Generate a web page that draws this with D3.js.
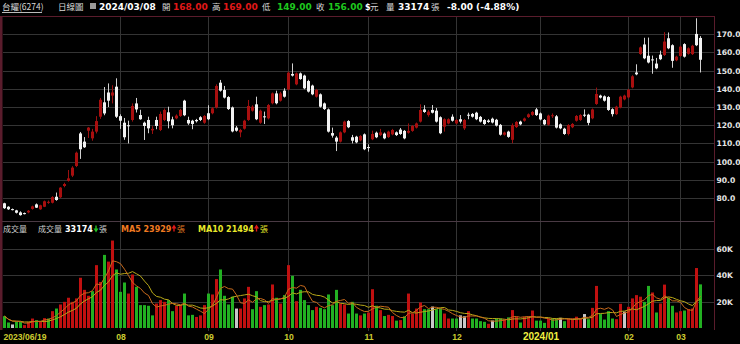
<!DOCTYPE html>
<html><head><meta charset="utf-8">
<script src="https://cdn.jsdelivr.net/npm/d3@7"></script>
<style>html,body{margin:0;padding:0;background:#000;overflow:hidden}</style>
</head><body>
<svg id="c" width="740" height="344"></svg>
<script>
// ---- data ----
const openP = [
77.1,75.2,73.9,73.2,72.1,71.7,72.1,74.0,76.5,73.8,
75.2,77.5,77.4,80.7,80.4,86.6,89.5,92.3,97.6,115.5,
111.0,117.0,112.8,116.5,124.7,132.6,138.0,136.3,141.2,125.0,
121.4,120.0,122.9,132.0,125.6,121.4,122.9,117.2,122.9,117.4,
122.9,127.1,123.2,123.8,125.1,133.5,122.9,122.5,122.9,124.4,
121.4,126.6,126.6,129.8,143.4,139.4,135.5,129.8,118.7,116.1,
118.1,122.9,128.0,131.5,121.4,124.9,123.8,132.1,137.5,133.5,
139.0,139.7,148.2,142.5,148.5,147.3,144.3,141.8,135.7,137.0,
132.0,128.7,115.7,113.2,111.0,116.1,122.3,113.4,113.7,111.7,
115.0,108.0,112.3,115.9,114.6,115.4,113.5,115.0,116.1,117.6,
116.9,115.9,116.9,118.7,122.0,128.7,125.6,128.4,128.0,124.4,
119.2,121.0,124.7,121.0,123.3,118.3,125.8,126.2,126.9,124.6,
122.9,122.6,123.6,123.0,120.2,114.8,116.5,112.0,119.0,122.0,
122.5,124.5,125.7,128.7,126.5,122.9,120.3,125.0,124.9,120.5,
118.1,115.2,118.9,122.5,122.9,125.8,125.8,123.8,131.7,136.3,
135.9,135.5,128.8,126.1,129.8,134.2,135.3,140.8,149.0,159.2,
164.4,158.2,156.2,153.9,158.8,158.6,167.8,164.0,155.7,158.1,
164.6,159.3,159.1,170.2,168.0];
const closeP = [
74.4,73.8,73.4,71.9,70.6,71.2,73.0,75.4,74.7,76.0,
78.2,77.9,80.5,78.9,85.7,87.7,90.8,96.7,104.9,106.8,
107.9,118.7,116.5,122.3,134.0,126.5,133.5,138.0,124.7,122.5,
113.4,119.8,130.6,128.7,123.3,119.6,118.3,118.0,119.6,126.2,
128.4,122.2,120.0,125.3,128.4,125.5,121.0,120.7,122.2,122.9,
125.1,123.3,129.3,141.6,139.0,135.2,128.9,116.6,117.0,117.4,
122.5,130.6,130.2,123.3,128.0,124.8,131.1,137.5,132.1,137.5,
135.7,148.9,147.3,148.5,145.4,140.3,138.5,137.0,139.4,130.2,
128.9,116.5,114.3,111.0,116.1,122.0,118.9,111.5,110.6,114.1,
106.8,107.8,115.2,113.4,116.1,112.8,116.5,117.4,114.6,115.2,
112.8,116.9,119.6,121.0,128.4,127.3,127.5,126.9,122.0,115.6,
123.3,123.3,122.5,122.9,122.0,122.9,125.4,124.7,123.3,122.0,
120.7,121.8,121.5,119.8,114.8,116.0,113.6,120.0,121.8,120.5,
123.7,126.0,127.3,125.6,123.2,120.5,125.3,125.5,118.7,118.3,
115.2,120.1,120.7,125.1,125.6,125.4,121.3,128.7,137.2,135.2,
133.5,128.4,126.1,130.2,135.7,136.3,139.5,146.9,148.0,162.8,
156.8,154.5,155.8,151.3,156.3,166.0,162.3,155.4,157.7,163.2,
157.7,162.3,163.7,164.0,156.0];
const highP = [
77.4,75.5,74.2,73.5,72.7,72.0,73.4,75.8,77.0,76.3,
78.6,78.6,81.0,83.0,86.0,88.4,95.4,97.5,105.5,116.3,
113.5,119.0,118.0,125.0,135.0,141.0,143.0,142.0,145.8,126.0,
124.0,122.5,132.0,135.0,128.5,122.0,124.7,119.5,124.7,127.5,
129.2,130.2,124.7,126.0,129.0,134.0,124.7,123.0,123.5,125.0,
125.6,131.0,130.0,142.5,144.9,141.6,136.0,130.3,119.6,118.0,
123.0,133.9,131.0,135.7,128.6,127.5,131.7,138.0,139.0,138.4,
140.3,149.5,154.0,149.0,149.0,147.8,145.0,142.3,140.0,137.5,
132.5,129.2,118.7,114.0,116.6,122.5,122.8,114.7,114.2,114.6,
115.5,109.5,117.0,116.5,118.0,116.0,117.0,118.0,116.6,118.5,
117.4,121.0,120.1,121.5,131.5,131.0,128.4,131.1,129.5,124.9,
123.8,123.8,126.0,123.4,125.6,123.4,126.9,126.7,127.4,125.1,
123.4,123.3,124.2,123.5,120.7,116.5,117.0,121.0,122.3,122.5,
124.2,126.5,127.8,129.5,127.0,123.4,125.8,126.5,125.6,121.0,
118.6,120.6,121.2,125.6,126.1,128.7,126.3,129.2,140.7,136.8,
136.4,136.0,129.3,130.7,136.2,136.8,140.0,147.5,153.5,163.3,
168.1,168.2,158.3,157.0,161.0,171.2,171.0,164.5,158.2,163.7,
165.1,162.8,164.2,178.8,169.0];
const lowP = [
74.0,73.4,73.2,71.5,70.3,71.0,71.6,73.6,74.5,73.5,
75.0,76.8,77.0,78.5,80.0,85.9,89.0,91.5,97.0,101.5,
107.5,113.0,111.5,115.5,123.5,125.5,130.0,132.0,124.0,118.0,
112.0,110.0,122.0,127.0,123.0,111.9,115.6,115.2,117.8,116.8,
122.3,118.3,118.3,123.3,124.6,125.0,120.2,117.8,121.5,122.3,
120.8,122.8,126.0,129.2,138.5,134.7,128.4,116.1,116.5,113.4,
117.6,122.4,127.5,122.8,120.8,120.7,123.2,131.5,131.5,133.0,
135.2,139.2,146.8,142.0,145.0,139.8,138.0,136.5,135.2,129.7,
128.4,116.0,113.2,105.8,110.5,115.6,118.4,110.0,110.1,111.2,
106.3,105.5,111.8,112.9,114.1,112.3,113.0,114.5,114.1,114.7,
112.3,115.4,116.4,118.2,121.5,126.8,124.7,126.5,121.5,115.1,
116.5,120.5,122.0,120.5,121.0,117.4,123.3,124.2,122.8,121.5,
120.2,121.3,121.0,119.3,114.3,114.3,113.1,110.1,118.5,120.0,
122.0,124.0,125.2,125.1,122.7,120.0,119.8,124.0,118.2,117.8,
114.7,114.4,118.4,122.0,122.4,124.5,120.0,123.3,131.2,134.7,
133.0,127.9,124.8,125.6,129.3,133.7,134.8,140.3,147.5,158.7,
156.3,154.0,148.3,150.8,155.8,158.1,161.8,151.6,155.2,157.6,
157.2,158.8,158.6,163.5,149.0];
const volume = [
9000,4200,2700,4700,4700,2200,4700,7200,6000,5000,
7500,7200,12800,14800,17900,19900,23000,19900,22500,38200,
29000,24500,28000,47800,35000,55600,50500,66500,44500,27500,
34600,26200,40700,31300,17400,17400,16900,9600,18600,21200,
19900,21200,12800,16900,17400,26200,9600,10000,8400,9600,
17400,26200,25500,37200,44500,24500,17900,23800,14800,14800,
22500,31300,14300,28000,16100,17400,17900,33100,23000,18600,
25000,47800,39700,20400,29000,21200,17400,13600,16100,15300,
14300,25500,17400,29000,18600,17900,11000,19900,11000,9600,
11000,11800,29500,16900,13600,9100,10000,9100,5600,6000,
8900,26200,11000,14800,19400,14300,14300,16300,14300,14800,
11000,7200,7200,7200,9600,8900,12800,7200,7200,5200,
4700,3200,5700,7200,7200,6400,8100,13600,8400,4200,
8400,8900,13300,5600,5600,3900,7200,7200,7200,7700,
5200,7200,7200,8600,7200,10600,6700,15300,32000,10600,
6400,12800,7200,6700,18400,12500,16100,22500,25000,23800,
19900,32000,27000,11800,18600,33000,23000,16900,11800,12800,
13300,14300,14800,45600,33174];
// volume bar colour: r = up, g = down, n = unchanged
const volDir = (
"ggnggrrrgr"+"rgrgrrrrrr"+"rrgrrgrrgg"+"grrgggggrr"+"rggrrgggrr"+
"rgrrggggnr"+"rrggrgrrgr"+"grgrggggrg"+"ggggrrgggr"+"grrgrgrrgr"+
"grrrrggngg"+"rrggnnrggg"+"grnggrgrrg"+"rrrgggrggn"+"grrrrngrrg"+
"gggrrnrrrr"+"ggrgrrggrr"+"grrrg").split("");
const xTickIdx = [0,29,51,71,91,113,134,156,169];
const xTickLabels = ["2023/06/19","08","09","10","11","12","2024/01","02","03"];
const priceTicks = [80,90,100,110,120,130,140,150,160,170];
const volTicks = [20000,40000,60000];

// ---- drawing ----
const W = 740, H = 344;
const svg = d3.select("#c");
svg.append("rect").attr("width",W).attr("height",H).attr("fill","#000");

const N = closeP.length;
const x = d3.scaleLinear().domain([0, N-1]).range([4.5, 4.5 + 4*(N-1)]);
const y = d3.scaleLinear().domain([70,180]).range([216.2,16.1]);
const yv = d3.scaleLinear().domain([0,80000]).range([328,222.8]);

const gridC = "#343434";
const L = 3, R = 714;
svg.append("g").selectAll("line").data(priceTicks).join("line")
  .attr("x1",L).attr("x2",R).attr("y1",d=>Math.round(y(d))+0.5).attr("y2",d=>Math.round(y(d))+0.5)
  .attr("stroke",gridC).attr("stroke-width",1);
svg.append("g").selectAll("line").data(volTicks).join("line")
  .attr("x1",L).attr("x2",R).attr("y1",d=>Math.round(yv(d))+0.5).attr("y2",d=>Math.round(yv(d))+0.5)
  .attr("stroke",gridC).attr("stroke-width",1);
svg.append("g").selectAll("line").data(xTickIdx.slice(1)).join("line")
  .attr("x1",d=>x(d)).attr("x2",d=>x(d)).attr("y1",16).attr("y2",331)
  .attr("stroke",gridC).attr("stroke-width",1);

// frame
const frameC = "#5a1c2c";
svg.append("line").attr("x1",2).attr("x2",R+0.5).attr("y1",16.5).attr("y2",16.5).attr("stroke",frameC);
svg.append("line").attr("x1",2).attr("x2",R+0.5).attr("y1",221.5).attr("y2",221.5).attr("stroke","#4a3a44");
svg.append("line").attr("x1",R+0.5).attr("x2",R+0.5).attr("y1",16).attr("y2",330).attr("stroke",frameC);
svg.append("rect").attr("x",0).attr("y",16).attr("width",2.5).attr("height",314).attr("fill",frameC);

// candles
const upC = "#a80f0f", dnC = "#f2f2f2";
const idx = d3.range(N);
const cg = svg.append("g");
cg.selectAll("line").data(idx).join("line")
  .attr("x1",i=>x(i)).attr("x2",i=>x(i))
  .attr("y1",i=>y(highP[i])).attr("y2",i=>y(lowP[i]))
  .attr("stroke",i=>closeP[i]>=openP[i]?"#9a1010":"#d0d0d0").attr("stroke-width",1);
cg.selectAll("rect").data(idx).join("rect")
  .attr("x",i=>x(i)-1.5).attr("width",3)
  .attr("y",i=>y(Math.max(openP[i],closeP[i])))
  .attr("height",i=>Math.max(1, Math.abs(y(openP[i])-y(closeP[i]))))
  .attr("fill",i=>closeP[i]>=openP[i]?upC:dnC);

// volume bars
const vcol = {r:"#c01010", g:"#22b022", n:"#c8c8c8"};
svg.append("g").selectAll("rect").data(idx).join("rect")
  .attr("x",i=>x(i)-1.5).attr("width",3)
  .attr("y",i=>yv(volume[i])).attr("height",i=>yv(0)-yv(volume[i]))
  .attr("fill",i=>vcol[volDir[i]]);

// moving averages of volume
function ma(n){ return idx.map(i=>d3.mean(volume.slice(Math.max(0,i-n+1), i+1))); }
const ma5 = ma(5), ma10 = ma(10);
const line = arr => d3.line().x((d,i)=>x(i)).y(d=>yv(d))(arr);
svg.append("path").attr("d",line(ma10)).attr("fill","none").attr("stroke","#b8a818").attr("stroke-width",1);
svg.append("path").attr("d",line(ma5)).attr("fill","none").attr("stroke","#c86a1c").attr("stroke-width",1);

// axes
const numFont = "'DejaVu Sans', Verdana, sans-serif";
const narrowFont = "'Liberation Sans', Arial, sans-serif";
const cjkFont = "'Noto Sans CJK TC', 'Noto Sans CJK SC', sans-serif";
const ay = svg.append("g").attr("transform",`translate(${R+2.5},0)`)
  .call(d3.axisRight(y).tickValues(priceTicks).tickFormat(d3.format(".1f")).tickSize(0).tickPadding(0));
const av = svg.append("g").attr("transform",`translate(${R+2.5},0)`)
  .call(d3.axisRight(yv).tickValues(volTicks).tickFormat(d=>d/1000+"K").tickSize(0).tickPadding(0));
[ay,av].forEach(a=>{ a.select(".domain").remove();
  a.selectAll("text").attr("fill","#e6e6e6").attr("font-family",numFont).attr("font-weight","bold").attr("font-size",7.6); });

const ax = svg.append("g").attr("transform","translate(0,333.5)")
  .call(d3.axisBottom(x).tickValues(xTickIdx).tickFormat((d,i)=>xTickLabels[i]).tickSize(0).tickPadding(0));
ax.select(".domain").remove();
ax.selectAll("text").attr("fill","#cccc30").attr("font-family",narrowFont).attr("font-weight","bold")
  .attr("font-size",8.6).attr("dy","0.72em");
ax.selectAll(".tick").filter((d,i)=>i===0).select("text").attr("text-anchor","start").attr("x",-1.5);
ax.selectAll(".tick").filter((d,i)=>xTickLabels[i]==="2024/01").select("text")
  .attr("fill","#f0f040").attr("font-size",10).attr("dy","0.66em");

// header
const hdr = svg.append("g");
function t(xp, yp, str, col, opt={}){
  return hdr.append("text").attr("x",xp).attr("y",yp).text(str).attr("fill",col)
    .attr("font-family",opt.cjk?cjkFont:numFont).attr("font-weight",opt.bold?"bold":"normal")
    .attr("font-size",opt.size||(opt.cjk?8.5:9));
}
function arrow(xp, yp, up, col){
  const p = up ? `M${xp},${yp+3} L${xp+2.5},${yp-1} L${xp+5},${yp+3} L${xp+3.2},${yp+3} L${xp+3.2},${yp+6} L${xp+1.8},${yp+6} L${xp+1.8},${yp+3} Z`
               : `M${xp},${yp+3} L${xp+2.5},${yp+7} L${xp+5},${yp+3} L${xp+3.2},${yp+3} L${xp+3.2},${yp} L${xp+1.8},${yp} L${xp+1.8},${yp+3} Z`;
  hdr.append("path").attr("d",p).attr("fill",col);
}
t(2,9.5,"台耀(6274)","#d8d8d8",{cjk:true});
hdr.append("line").attr("x1",2).attr("x2",42).attr("y1",12.5).attr("y2",12.5).attr("stroke","#bbb");
t(58,9.5,"日線圖","#d8d8d8",{cjk:true});
hdr.append("rect").attr("x",90).attr("y",3).attr("width",6).attr("height",6).attr("fill","#9a9a9a");
t(99,10,"2024/03/08","#ffffff",{bold:true});
t(162,9.5,"開","#d8d8d8",{cjk:true});
t(173,10,"168.00","#e01818",{bold:true});
t(212,9.5,"高","#d8d8d8",{cjk:true});
t(223,10,"169.00","#e01818",{bold:true});
t(262,9.5,"低","#d8d8d8",{cjk:true});
t(277,10,"149.00","#1ec81e",{bold:true});
t(316,9.5,"收","#d8d8d8",{cjk:true});
t(328,10,"156.00","#1ec81e",{bold:true});
t(365,10,"$","#ffffff",{bold:true,size:8});
t(370,9.5,"元","#d8d8d8",{cjk:true});
t(386,9.5,"量","#d8d8d8",{cjk:true});
t(398,10,"33174","#ffffff",{bold:true});
t(431,9.5,"張","#d8d8d8",{cjk:true});
t(447,10,"-8.00 (-4.88%)","#ffffff",{bold:true});

// volume header
t(3,231.5,"成交量","#d0d0d0",{cjk:true,size:8});
t(38,231.5,"成交量","#d0d0d0",{cjk:true,size:8});
t(65,232,"33174","#ffffff",{bold:true,size:8});
arrow(93.5,225.5,false,"#22c022");
t(99,231.5,"張","#d0d0d0",{cjk:true,size:8});
t(121,232,"MA5 23929","#f07a20",{bold:true,size:8});
arrow(171.5,225.5,true,"#e01818");
t(177,231.5,"張","#e07a20",{cjk:true,size:8});
t(198,232,"MA10 21494","#e8e82a",{bold:true,size:8});
arrow(254,225.5,true,"#e01818");
t(260,231.5,"張","#e8e82a",{cjk:true,size:8});
</script>
</body></html>
